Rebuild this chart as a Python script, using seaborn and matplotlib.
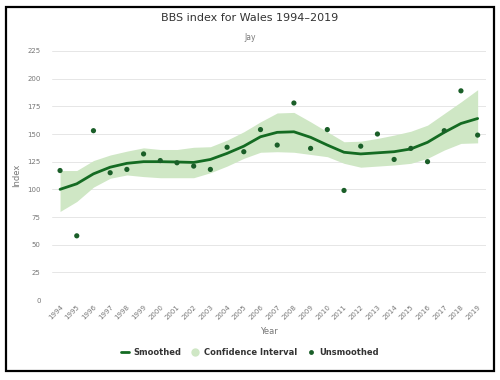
import numpy as np
import pandas as pd
import matplotlib
matplotlib.use("Agg")
import matplotlib.pyplot as plt
from matplotlib.lines import Line2D
from matplotlib.patches import Rectangle
import seaborn as sns

# ---------------------------------------------------------------
# DATA
# ---------------------------------------------------------------
years = list(range(1994, 2020))
unsmoothed = [117, 58, 153, 115, 118, 132, 126, 124, 121, 118, 138, 134,
              154, 140, 178, 137, 154, 99, 139, 150, 127, 137, 125, 153,
              189, 149]
smoothed = [100, 105, 114, 120, 123.5, 125, 125, 124.7, 124.3, 127, 132.5, 139,
            147.5, 151.5, 152, 147, 140, 133.5, 132, 133, 134, 136.5, 142.5, 151.5,
            159.5, 164]
ci_upper = [117, 117, 126, 131, 134.5, 137.5, 136, 136, 138, 138.5, 144.5, 152,
            161, 169, 169.5, 161, 152, 143, 143.5, 146, 149, 152.5, 158, 168.5,
            179, 190]
ci_lower = [80, 89, 102, 110, 113, 111.5, 110.5, 110.5, 110.5, 115, 121, 128,
            133.5, 134, 133.5, 131.5, 129.5, 123.5, 120, 121, 122, 123.5, 128, 135.5,
            141.5, 142]

df = pd.DataFrame({"Year": years, "Unsmoothed": unsmoothed, "Smoothed": smoothed,
                   "Upper": ci_upper, "Lower": ci_lower})

LINE_C = "#146b22"
DOT_C = "#1a5e28"
BAND_C = "#cfe7c5"
GREY = "#777777"

# ---------------------------------------------------------------
# PLOT
# ---------------------------------------------------------------
sns.set_style("white")
plt.rcParams["font.family"] = ["DejaVu Sans"]

fig = plt.figure(figsize=(5, 3.8), dpi=100)
ax = fig.add_axes([0.1034, 0.2105, 0.8686, 0.6553])

ax.fill_between(df["Year"], df["Lower"], df["Upper"], color=BAND_C, linewidth=0, zorder=1)
sns.lineplot(data=df, x="Year", y="Smoothed", ax=ax, color=LINE_C, linewidth=2.0, zorder=3)
sns.scatterplot(data=df, x="Year", y="Unsmoothed", ax=ax, color=DOT_C, s=14,
                edgecolor="none", zorder=4)

ax.set_xlim(1993.5, 2019.5)
ax.set_ylim(0, 225)
ax.set_yticks(np.arange(0, 226, 25))
ax.set_xticks(years)
ax.set_xticklabels([str(y) for y in years], rotation=45, ha="right",
                   rotation_mode="anchor", fontsize=5, color=GREY)
ax.tick_params(axis="y", labelsize=5, colors=GREY, length=0, pad=8)
ax.tick_params(axis="x", length=0, pad=3)
ax.grid(axis="y", color="#e6e6e6", linewidth=0.7)
ax.grid(axis="x", visible=False)
for s in ax.spines.values():
    s.set_visible(False)

ax.set_xlabel("Year", fontsize=6, color=GREY, labelpad=4)
ax.set_ylabel("Index", fontsize=6, color=GREY, labelpad=10)
ax.yaxis.set_label_coords(-0.07, 0.5)

fig.text(0.5, 0.952, "BBS index for Wales 1994\u20132019", ha="center", va="center",
         fontsize=8, color="#333333")
fig.text(0.5, 0.9, "Jay", ha="center", va="center", fontsize=5.5, color=GREY)

handles = [
    Line2D([0], [0], color=LINE_C, linewidth=2),
    Line2D([0], [0], marker="o", linestyle="none", markerfacecolor=BAND_C,
           markeredgecolor="none", markersize=6),
    Line2D([0], [0], marker="o", linestyle="none", markerfacecolor=DOT_C,
           markeredgecolor="none", markersize=3.5),
]
leg = fig.legend(handles, ["Smoothed", "Confidence Interval", "Unsmoothed"],
                 loc="center", bbox_to_anchor=(0.5, 0.073), ncol=3, frameon=False,
                 handlelength=1.0, handletextpad=0.5, columnspacing=1.2,
                 prop={"size": 6, "weight": "bold"})
for t in leg.get_texts():
    t.set_color("#333333")

# black frame around the whole chart
fig.patches.append(Rectangle((0.012, 0.024), 0.976, 0.958, transform=fig.transFigure,
                             fill=False, edgecolor="black", linewidth=1.6))

plt.savefig("out.png", dpi=100)
plt.close()
